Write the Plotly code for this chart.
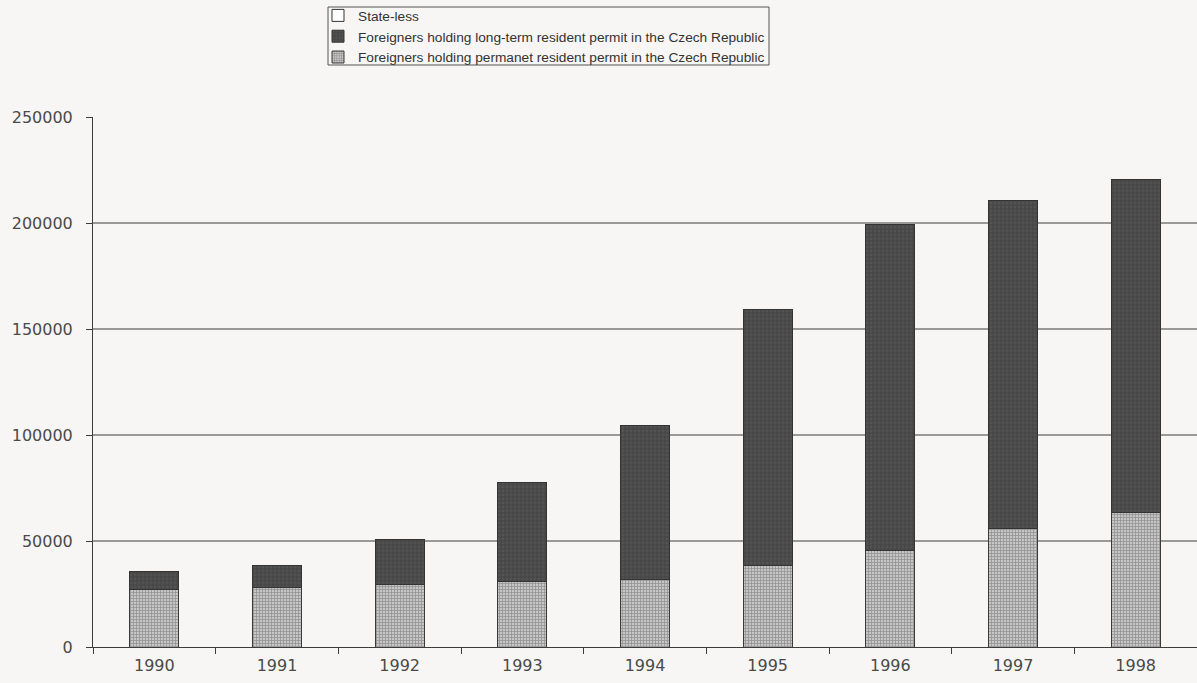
import plotly.graph_objects as go

years = ["1990", "1991", "1992", "1993", "1994", "1995", "1996", "1997", "1998"]
permanent = [27000, 28100, 29400, 30700, 31900, 38300, 45400, 56000, 63600]
long_term = [8600, 10500, 21100, 47100, 72700, 120700, 154100, 154700, 156900]
stateless = [0, 0, 0, 0, 0, 0, 0, 0, 0]
y_ticks = [0, 50000, 100000, 150000, 200000, 250000]
grid_vals = [50000, 100000, 150000, 200000]

FONT = "Liberation Sans, Arial, sans-serif"
TICKFONT = "DejaVu Sans, sans-serif"
BG = "#f7f6f4"

# plot-area geometry (pixels) used to place the legend frame
L, R, T, B, W, H = 93, 0, 117, 36, 1197, 683
PW, PH = W - L - R, H - T - B


def px_x(p):
    return (p - L) / PW


def px_y(p):
    return (H - B - p) / PH


fig = go.Figure()
fig.add_trace(go.Bar(
    x=years, y=permanent,
    name="Foreigners holding permanet resident permit in the Czech Republic",
    marker=dict(color="#b8b8b8", line=dict(color="#3a3a3a", width=1),
                pattern=dict(shape="+", fgcolor="#606060", bgcolor="#c6c6c6", size=3, solidity=0.45)),
))
fig.add_trace(go.Bar(
    x=years, y=long_term,
    name="Foreigners holding long-term resident permit in the Czech Republic",
    marker=dict(color="#484848", line=dict(color="#333333", width=1),
                pattern=dict(shape=".", fgcolor="#5e5e5e", bgcolor="#474747", size=4, solidity=0.4)),
))
fig.add_trace(go.Bar(
    x=years, y=stateless,
    name="State-less",
    marker=dict(color="#ffffff", line=dict(color="#333333", width=1)),
))

for g in grid_vals:
    fig.add_shape(type="line", xref="paper", yref="y", x0=0, x1=1, y0=g, y1=g,
                  line=dict(color="#3c3c3c", width=1), layer="below")

# legend frame
fig.add_shape(type="rect", xref="paper", yref="paper",
              x0=px_x(328), x1=px_x(769), y0=px_y(65), y1=px_y(7),
              line=dict(color="#555555", width=1), fillcolor="rgba(0,0,0,0)")

fig.update_layout(
    barmode="stack",
    bargap=0.6,
    width=W, height=H,
    margin=dict(l=L, r=R, t=T, b=B, autoexpand=False),
    paper_bgcolor=BG, plot_bgcolor=BG,
    font=dict(family=FONT, color="#4a4a4a", size=15),
    showlegend=True,
    legend=dict(
        traceorder="reversed",
        x=318 / W, xanchor="left", xref="container",
        y=1.0, yanchor="top", yref="container",
        bgcolor="rgba(0,0,0,0)", borderwidth=0,
        font=dict(family=FONT, size=13.7, color="#333333"),
        itemwidth=30,
    ),
    xaxis=dict(
        type="category",
        showgrid=False,
        showline=True, linecolor="#3c3c3c", linewidth=1,
        ticks="outside", tickson="boundaries", ticklen=6, tickcolor="#3c3c3c",
        tickfont=dict(family=TICKFONT, size=16, color="#4a4a4a"),
        ticklabelstandoff=4,
        range=[-0.5, 8.5],
    ),
    yaxis=dict(
        range=[0, 250000],
        tickvals=y_ticks,
        ticktext=[str(v) for v in y_ticks],
        showgrid=False, zeroline=False,
        showline=True, linecolor="#3c3c3c", linewidth=1,
        ticks="outside", ticklen=6, tickcolor="#3c3c3c",
        tickfont=dict(family=TICKFONT, size=16, color="#4a4a4a"),
        ticklabelstandoff=10,
    ),
)

fig.write_html("out.html")
